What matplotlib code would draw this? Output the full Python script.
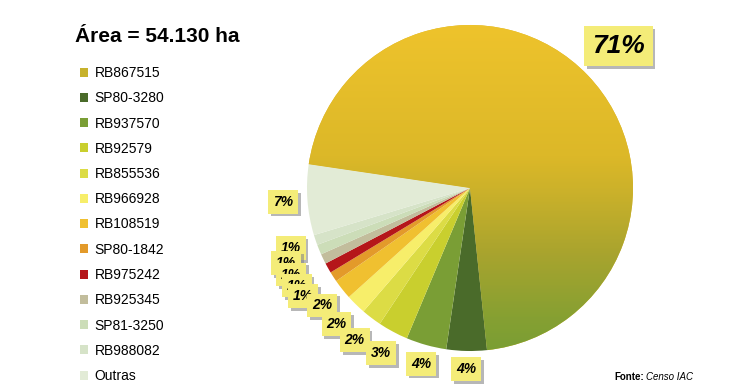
import numpy as np
import matplotlib.pyplot as plt
import matplotlib.patheffects as pe
from matplotlib.patches import Patch
from matplotlib.colors import LinearSegmentedColormap

# variedades e participação na área (%)
variedades = ['RB867515', 'SP80-3280', 'RB937570', 'RB92579', 'RB855536',
              'RB966928', 'RB108519', 'SP80-1842', 'RB975242', 'RB925345',
              'SP81-3250', 'RB988082', 'Outras']
area_pct = [71, 4, 4, 3, 2, 2, 2, 1, 1, 1, 1, 1, 7]
titulo = 'Área = 54.130 ha'

cores = ['#DDB52C', '#4A6B2A', '#7A9E35', '#C9CF2E', '#DCDC45', '#F7EE6A',
         '#F0C030', '#E39A2A', '#B5161A', '#C2BD9C', '#CCDDB8', '#D6E3C8',
         '#E2EBD6']

W, H = 750, 392
cx, cy, R = 470, 188, 163  # centro e raio da pizza em pixels

fig = plt.figure(figsize=(W / 100, H / 100), dpi=100)
ax = fig.add_axes([0, 0, 1, 1])

wedges, _ = ax.pie(area_pct, colors=cores, startangle=171.6, counterclock=False,
                   wedgeprops=dict(linewidth=0))
ax.set_xlim(-cx / R, (W - cx) / R)
ax.set_ylim(-(H - cy) / R, cy / R)

# degradê vertical da fatia principal (dourado -> verde oliva)
grad = LinearSegmentedColormap.from_list(
    'g', [(0.0, '#EEC32C'), (0.4, '#DCB828'), (0.5, '#CDB22A'),
          (0.7, '#A9A42E'), (0.9, '#86A032'), (1.0, '#7A9E34')])
t = np.linspace(0, 1, 300)[:, None] * np.ones((1, 10))
img = ax.imshow(t, cmap=grad, extent=(-1, 1, -1, 1), origin='upper', zorder=2,
                vmin=0, vmax=1, aspect='auto')
img.set_clip_path(wedges[0])
wedges[0].set_zorder(1)
ax.set_aspect('equal')
ax.set_xlim(-cx / R, (W - cx) / R)
ax.set_ylim(-(H - cy) / R, cy / R)

# rótulos
dist = [1.26, 1.11, 1.12, 1.15, 1.17, 1.17, 1.16, 1.22, 1.22, 1.22, 1.22, 1.16, 1.15]
sombra = [pe.withSimplePatchShadow(offset=(2, -2), shadow_rgbFace='#888888', alpha=0.6)]
for i in range(len(wedges) - 1, -1, -1):
    w = wedges[i]
    ang = np.deg2rad((w.theta1 + w.theta2) / 2)
    x, y = dist[i] * np.cos(ang), dist[i] * np.sin(ang)
    big = i == 0
    txt = ax.text(x, y, f'{area_pct[i]}%', ha='center', va='center',
                  fontsize=19 if big else 10, fontweight='bold', fontstyle='italic',
                  family='Liberation Sans', zorder=5 + (len(wedges) - i) * 0.01,
                  bbox=dict(boxstyle='square,pad=0.3' if big else 'square,pad=0.35',
                            facecolor='#F4EC78', edgecolor='none'))
    txt.get_bbox_patch().set_path_effects(sombra)

ax.set_axis_off()

handles = [Patch(facecolor=c, edgecolor='none') for c in cores]
handles[0] = Patch(facecolor='#C7B22C', edgecolor='none')
fig.legend(handles, variedades, loc='upper left', bbox_to_anchor=(80 / W, 1 - 66 / H),
           frameon=False, prop=dict(family='Liberation Sans', size=10),
           handlelength=0.6, handleheight=0.6, handletextpad=0.45,
           labelspacing=0.81, borderaxespad=0, borderpad=0)

fig.text(75 / W, 1 - 37 / H, titulo, fontsize=15, fontweight='bold',
         family='Liberation Sans', va='center', ha='left')

fig.text(614 / W, 1 - 377 / H, 'Fonte:', fontsize=7, fontweight='bold',
         family='Liberation Sans', va='center', ha='left')
fig.text(646 / W, 1 - 377 / H, 'Censo IAC', fontsize=7, fontstyle='italic',
         family='Liberation Sans', va='center', ha='left')

fig.savefig('out.png', dpi=100)
